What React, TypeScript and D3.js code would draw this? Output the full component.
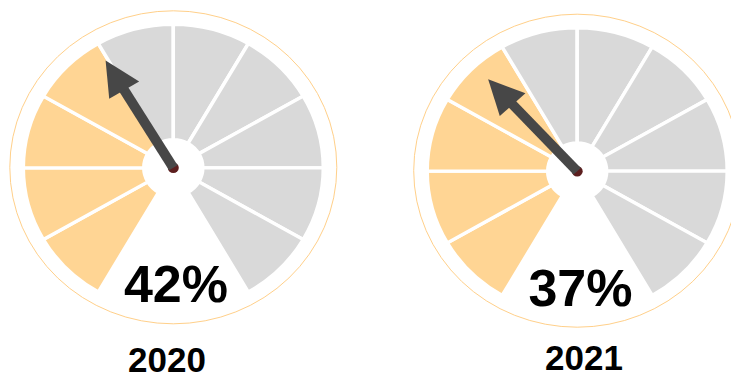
import React from 'react';
import * as d3 from 'd3';

// chart data
const years = ['2020', '2021'];
const values = [42, 37];
const segmentCount = 10;

const W = 731;
const H = 372;

const ORANGE = '#FFD594';
const GRAY = '#D9D9D9';
const NEEDLE = '#474747';

// gauge layout (the gauges are a bit squashed vertically)
const gauges = [
  { cx: 173.3, cy: 167.8, textX: 176, pctY: 302, yearX: 167, yearY: 372 },
  { cx: 577.2, cy: 171.2, textX: 580.5, pctY: 306, yearX: 584, yearY: 370 },
];
const squash = 0.956;

const segAngle = d3.scaleLinear().domain([0, segmentCount]).range([-150, 150]);
// needle sweep as drawn in the original
const needleAngle = d3.scaleLinear().domain([0, 100]).range([-129.4, 104.6]);

const arc = d3.arc<{ s: number; e: number }>()
  .innerRadius(29.5)
  .outerRadius(150)
  .startAngle((d) => (d.s * Math.PI) / 180)
  .endAngle((d) => (d.e * Math.PI) / 180);

const Gauge: React.FC<{ value: number; year: string; g: typeof gauges[0] }> = ({ value, year, g }) => {
  const filled = Math.round(value / (100 / segmentCount));
  const segs = d3.range(segmentCount).map((i) => ({ s: segAngle(i), e: segAngle(i + 1), on: i < filled }));

  const a = (needleAngle(value) * Math.PI) / 180;
  const len = 131;
  const headLen = 36;
  const headHalf = 17.5;
  const ux = Math.sin(a);
  const uy = -Math.cos(a);
  const px = -uy;
  const py = ux;
  const bx = ux * (len - headLen);
  const by = uy * (len - headLen);
  const tip = [ux * len, uy * len];
  const head = [
    tip,
    [bx + px * headHalf, by + py * headHalf],
    [bx - px * headHalf, by - py * headHalf],
  ];

  return (
    <g>
      <ellipse cx={g.cx} cy={g.cy - 0.5} rx={163.5} ry={156.5} fill="none" stroke="#FFD08A" strokeWidth={1} />
      <g transform={`translate(${g.cx},${g.cy}) scale(1,${squash})`}>
        {segs.map((d, i) => (
          <path key={i} d={arc(d) || ''} fill={d.on ? ORANGE : GRAY} stroke="#fff" strokeWidth={3.5} strokeLinejoin="miter" />
        ))}
        <circle r={5.5} fill="#5C1E1E" />
        <line x1={0} y1={0} x2={bx + ux * 2} y2={by + uy * 2} stroke={NEEDLE} strokeWidth={10} />
        <polygon points={head.map((p) => p.join(',')).join(' ')} fill={NEEDLE} />
      </g>
      <text x={g.textX} y={g.pctY} textAnchor="middle" fontFamily="Liberation Sans, Arial, sans-serif" fontWeight="bold" fontSize={52} fill="#000">
        {value}%
      </text>
      <text x={g.yearX} y={g.yearY} textAnchor="middle" fontFamily="Liberation Sans, Arial, sans-serif" fontWeight="bold" fontSize={35} fill="#000">
        {year}
      </text>
    </g>
  );
};

export default function App() {
  return (
    <svg width={W} height={H} style={{ position: 'absolute', left: 0, top: 0, background: '#fff' }}>
      {values.map((v, i) => (
        <Gauge key={years[i]} value={v} year={years[i]} g={gauges[i]} />
      ))}
    </svg>
  );
}
